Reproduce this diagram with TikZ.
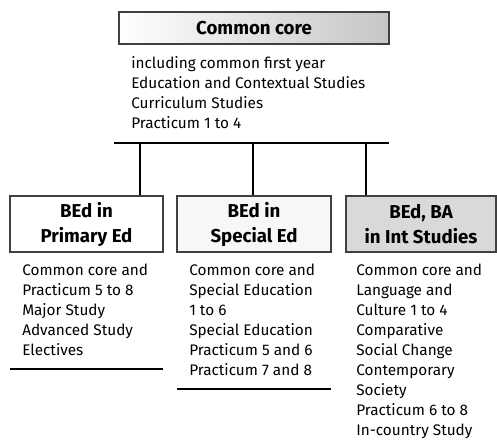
\documentclass[tikz,border=0pt]{standalone}
\usepackage{fontspec}
\setmainfont{Fira Sans}
\usetikzlibrary{positioning}

\begin{document}
\begin{tikzpicture}[x=0.75pt, y=-0.75pt,
    titlebox/.style={draw=black!75, line width=0.8pt, inner sep=0pt, align=center,
      font=\fontsize{14}{18.75}\selectfont\bfseries},
    coltext/.style={anchor=base west, align=left, inner sep=0pt,
      font=\fontsize{11.5}{15}\selectfont},
    rule/.style={line width=1.1pt}]
    \useasboundingbox (0,0) rectangle (497,444);

    % Common core box
    \node[titlebox, minimum width=202.5pt, minimum height=24pt,
      left color=white, middle color=white, right color=gray!45] (core) at (254,28) {Common core};
    % base anchor sits on the last line
    \node[coltext] (coreText) at (131,128) {including common first year\\Education and Contextual Studies\\Curriculum Studies\\Practicum 1 to 4};

    % Bar and branches
    \coordinate (barL) at (114,143);
    \coordinate (barR) at (389,143);
    \coordinate (br1) at (140,143);
    \coordinate (br2) at (253,143);
    \coordinate (br3) at (366,143);
    \draw[rule] (barL) -- (barR);

    % Degree boxes
    \node[titlebox, minimum width=114.75pt, minimum height=42pt, fill=white] (primary) at (86.5,224) {BEd in\\Primary Ed};
    \node[titlebox, minimum width=115.5pt, minimum height=42pt, fill=gray!6] (special) at (254,224) {BEd in\\Special Ed};
    \node[titlebox, minimum width=112.5pt, minimum height=42pt, fill=gray!30] (intl) at (421,224) {BEd, BA\\in Int Studies};

    \draw[rule] (br1) -- (br1 |- primary.north);
    \draw[rule] (br2) -- (br2 |- special.north);
    \draw[rule] (br3) -- (br3 |- intl.north);

    % Column texts
    \node[coltext] (primaryText) at (22,355) {Common core and\\Practicum 5 to 8\\Major Study\\Advanced Study\\Electives};
    \node[coltext] (specialText) at (189,375) {Common core and\\Special Education\\1 to 6\\Special Education\\Practicum 5 and 6\\Practicum 7 and 8};
    \node[coltext] (intlText) at (356,435) {Common core and\\Language and\\Culture 1 to 4\\Comparative\\Social Change\\Contemporary\\Society\\Practicum 6 to 8\\In-country Study};

    % Underlines
    \coordinate (ulA) at (10,369);
    \coordinate (ulB) at (163,369);
    \coordinate (ulC) at (177,389);
    \coordinate (ulD) at (331,389);
    \draw[rule] (ulA) -- (ulB);
    \draw[rule] (ulC) -- (ulD);
\end{tikzpicture}
\end{document}
